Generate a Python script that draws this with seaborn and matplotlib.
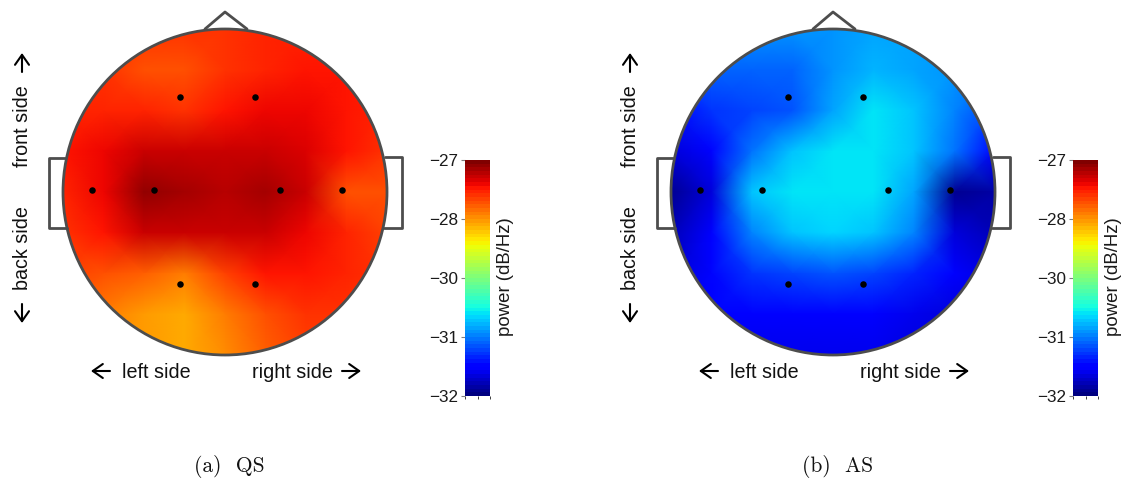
# head_power.py

import numpy as np
import pandas as pd
import matplotlib
matplotlib.use("Agg")
import matplotlib.pyplot as plt
from matplotlib.patches import Ellipse
import seaborn as sns

# power (dB/Hz) on a 9x9 grid over the head
qs_power = [
    [-27.78, -27.78, -27.78, -27.78, -27.72, -27.68, -27.65, -27.65, -27.65],
    [-27.72, -27.78, -27.88, -27.88, -27.72, -27.65, -27.60, -27.62, -27.65],
    [-27.65, -27.65, -27.68, -27.72, -27.55, -27.50, -27.50, -27.55, -27.65],
    [-27.62, -27.50, -27.36, -27.36, -27.34, -27.34, -27.40, -27.55, -27.72],
    [-27.65, -27.50, -27.12, -27.20, -27.25, -27.22, -27.36, -27.88, -27.90],
    [-27.72, -27.60, -27.34, -27.34, -27.38, -27.38, -27.48, -27.70, -27.80],
    [-27.85, -27.90, -28.00, -28.10, -27.85, -27.62, -27.62, -27.70, -27.78],
    [-27.95, -28.12, -28.28, -28.38, -28.10, -27.88, -27.75, -27.75, -27.82],
    [-28.05, -28.20, -28.30, -28.35, -28.18, -27.95, -27.80, -27.80, -27.82],
]
as_power = [
    [-30.62, -30.62, -30.62, -30.62, -30.60, -30.58, -30.58, -30.62, -30.62],
    [-30.95, -30.90, -30.90, -30.88, -30.66, -30.46, -30.52, -30.60, -30.72],
    [-31.30, -31.12, -31.00, -30.92, -30.58, -30.28, -30.42, -30.70, -31.00],
    [-31.60, -31.35, -30.78, -30.42, -30.26, -30.25, -30.36, -30.78, -31.30],
    [-31.85, -31.60, -30.36, -30.22, -30.22, -30.22, -30.52, -31.88, -31.80],
    [-31.70, -31.45, -30.72, -30.38, -30.32, -30.36, -30.68, -31.55, -31.70],
    [-31.55, -31.35, -31.10, -31.00, -30.92, -31.00, -31.18, -31.42, -31.55],
    [-31.50, -31.45, -31.40, -31.40, -31.40, -31.45, -31.50, -31.55, -31.55],
    [-31.55, -31.50, -31.50, -31.50, -31.50, -31.50, -31.55, -31.55, -31.55],
]
panel_names = ["(a)  QS", "(b)  AS"]
cbar_ticks = [-32, -30.75, -29.5, -28.25, -27]
cbar_labels = ["\u221232", "\u221231", "\u221230", "\u221228", "\u221227"]

# electrodes and head outline, pixels of the left panel
elec_x = [92, 154, 280, 342, 180, 255, 180, 255]
elec_y = [190, 190, 190, 190, 97, 97, 284, 284]
nose_x = [205, 225, 247]
nose_y = [29, 12, 29]
ear_l_x = [65, 49, 49, 67]
ear_l_y = [158, 158, 228, 228]
ear_r_x = [385, 402, 402, 384]
ear_r_y = [157, 157, 228, 228]

W, H = 1121, 479
LINE = "#4d4d4d"
HEAD_L, HEAD_T, CELL_W, CELL_H = 63, 29, 40.5, 40.75
PANEL_STEP = 608
SIDE_FONT = 14.2

sns.set_theme(style="white")
plt.rcParams["font.family"] = ["Liberation Sans", "DejaVu Sans"]
plt.rcParams["axes.unicode_minus"] = True
jet = plt.get_cmap("jet", 64)

fig = plt.figure(figsize=(W / 100, H / 100), dpi=100)


def box(left, top, width, height):
    return [left / W, 1 - (top + height) / H, width / W, height / H]


def fx(px):
    return (px - HEAD_L) / CELL_W


def fy(py):
    return (py - HEAD_T) / CELL_H


def arrow(ax, x0, y0, x1, y1):
    ax.annotate("", xy=(x1 / W, 1 - y1 / H), xytext=(x0 / W, 1 - y0 / H),
                xycoords="figure fraction", textcoords="figure fraction",
                arrowprops=dict(arrowstyle="->,head_length=0.6,head_width=0.42",
                                color="black", lw=1.5, shrinkA=0, shrinkB=0))


for i, power in enumerate([qs_power, as_power]):
    off = PANEL_STEP * i
    ax = fig.add_axes(box(HEAD_L + off, HEAD_T, 324, 326))
    cax = fig.add_axes(box(465 + off, 160, 25, 236))

    sns.heatmap(pd.DataFrame(power), ax=ax, cmap=jet, vmin=-32, vmax=-27,
                cbar_ax=cax, cbar_kws={"ticks": cbar_ticks},
                xticklabels=False, yticklabels=False, shading="gouraud")
    ax.set_xlim(0, 8)
    ax.set_ylim(8, 0)
    ax.axis("off")

    head = Ellipse((4, 4), 8, 8, fill=False, ec=LINE, lw=2, clip_on=False, zorder=5)
    ax.add_patch(head)
    ax.collections[0].set_clip_path(head)

    for xs, ys in [(nose_x, nose_y), (ear_l_x, ear_l_y), (ear_r_x, ear_r_y)]:
        ax.plot(fx(np.array(xs)), fy(np.array(ys)), color=LINE, lw=2,
                clip_on=False, zorder=4, solid_joinstyle="round")

    sns.scatterplot(x=fx(np.array(elec_x)), y=fy(np.array(elec_y)), ax=ax,
                    color="black", s=22, linewidth=0, zorder=6, legend=False)

    # colour bar: ticks on the left, label on the right
    cax.yaxis.tick_left()
    cax.set_yticks(cbar_ticks)
    cax.set_yticklabels(cbar_labels, fontsize=12.3, color="#1a1a1a")
    cax.tick_params(axis="y", left=True, length=3, width=0.8, color="#808080", pad=2)
    cax.set_xticks([0, 0.5, 1])
    cax.set_xticklabels([])
    cax.tick_params(axis="x", bottom=True, length=2, width=0.7, color="#404040")
    fig.text((505 + off) / W, 1 - 277 / H, "power (dB/Hz)", rotation=90,
             ha="center", va="center", fontsize=13.4, color="#1a1a1a")

    # side labels
    fig.text((156 + off) / W, 1 - 372 / H, "left side", ha="center", va="center",
             fontsize=SIDE_FONT, color="#111111")
    fig.text((292 + off) / W, 1 - 372 / H, "right side", ha="center", va="center",
             fontsize=SIDE_FONT, color="#111111")
    fig.text((22 + off) / W, 1 - 126 / H, "front side", rotation=90, ha="center",
             va="center", fontsize=SIDE_FONT, color="#111111")
    fig.text((22 + off) / W, 1 - 248 / H, "back side", rotation=90, ha="center",
             va="center", fontsize=SIDE_FONT, color="#111111")
    arrow(ax, 110 + off, 371, 91 + off, 371)
    arrow(ax, 342 + off, 371, 361 + off, 371)
    arrow(ax, 22 + off, 72, 22 + off, 53)
    arrow(ax, 22 + off, 304, 22 + off, 323)

    fig.text((229 + off + 1 * i) / W, 1 - 466 / H, panel_names[i], ha="center",
             va="center", fontsize=15.5, family="cmr10", color="#111111")

fig.savefig("out.png", dpi=100)
